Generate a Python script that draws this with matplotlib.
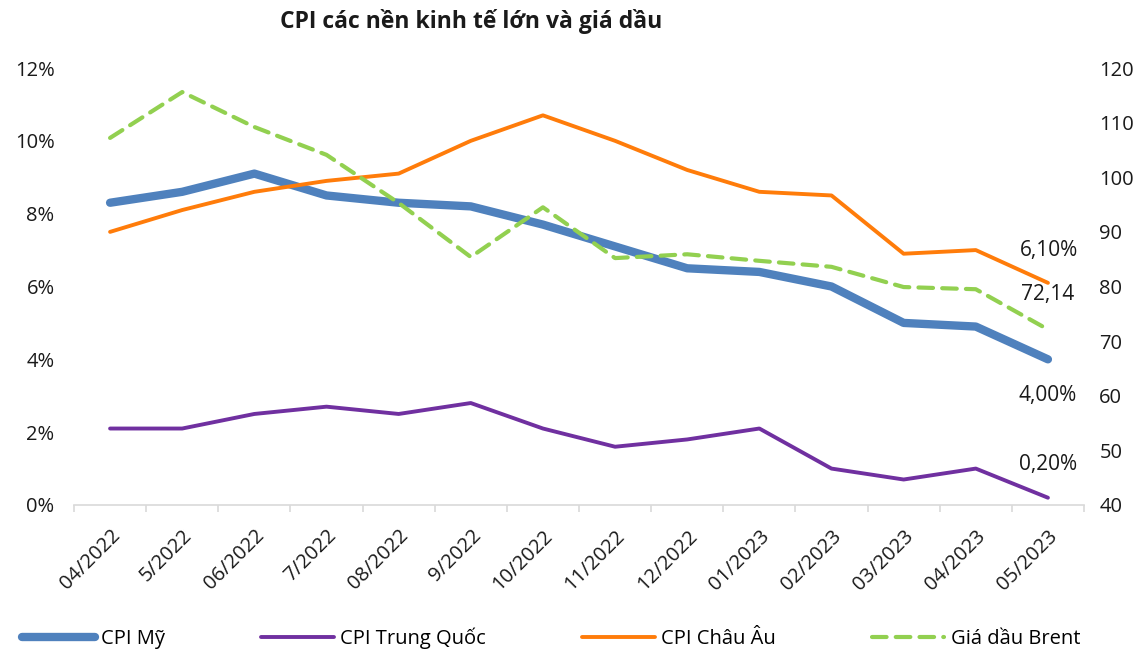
import matplotlib
matplotlib.use("Agg")
import matplotlib.pyplot as plt
from matplotlib.ticker import FixedLocator, FuncFormatter

plt.rcParams['font.family'] = ['Open Sans', 'DejaVu Sans']

months = ["04/2022", "5/2022", "06/2022", "7/2022", "08/2022", "9/2022", "10/2022",
          "11/2022", "12/2022", "01/2023", "02/2023", "03/2023", "04/2023", "05/2023"]
cpi_us = [8.3, 8.6, 9.1, 8.5, 8.3, 8.2, 7.7, 7.1, 6.5, 6.4, 6.0, 5.0, 4.9, 4.0]
cpi_cn = [2.1, 2.1, 2.5, 2.7, 2.5, 2.8, 2.1, 1.6, 1.8, 2.1, 1.0, 0.7, 1.0, 0.2]
cpi_eu = [7.5, 8.1, 8.6, 8.9, 9.1, 10.0, 10.7, 10.0, 9.2, 8.6, 8.5, 6.9, 7.0, 6.1]
brent = [107.2, 115.6, 109.2, 104.1, 95.3, 85.4, 94.5, 85.2, 85.9, 84.7, 83.6, 79.9, 79.5, 72.14]

C_US = "#4F81BD"
C_CN = "#7030A0"
C_EU = "#FF7C0A"
C_BR = "#92D050"
TXT = "#1a1a1a"

fig = plt.figure(figsize=(11.45, 6.51), dpi=100)
ax = fig.add_axes([74/1145, 1-505/651, (1084-74)/1145, (505-68)/651])
ax2 = ax.twinx()

x = list(range(len(months)))
l1, = ax.plot(x, cpi_us, color=C_US, lw=6, solid_capstyle='round', label="CPI Mỹ")
l2, = ax.plot(x, cpi_cn, color=C_CN, lw=2.8, solid_capstyle='round', label="CPI Trung Quốc")
l3, = ax.plot(x, cpi_eu, color=C_EU, lw=2.8, solid_capstyle='round', label="CPI Châu Âu")
l4, = ax2.plot(x, brent, color=C_BR, lw=3, linestyle=(0, (3.5, 2.2)), dash_capstyle='round',
               label="Giá dầu Brent")

ax.set_xlim(-0.5, len(months) - 0.5)
ax.set_ylim(0, 12)
ax2.set_ylim(40, 120)

ax.set_yticks([0, 2, 4, 6, 8, 10, 12])
ax.yaxis.set_major_formatter(FuncFormatter(lambda v, p: f"{int(v)}%"))
ax2.set_yticks([40, 50, 60, 70, 80, 90, 100, 110, 120])

for a in (ax, ax2):
    for s in a.spines.values():
        s.set_visible(False)
ax.spines['bottom'].set_visible(True)
ax.spines['bottom'].set_color("#D9D9D9")
ax.spines['bottom'].set_linewidth(1.2)

ax.tick_params(axis='y', length=0, labelsize=14.5, pad=14, labelcolor=TXT)
ax2.tick_params(axis='y', length=0, labelsize=14.5, pad=11, labelcolor=TXT)

ax.set_xticks(x)
ax.set_xticklabels(months, rotation=45, ha='right', va='top', rotation_mode='anchor',
                   fontsize=14.5, color=TXT)
ax.tick_params(axis='x', which='major', length=0, pad=15)
ax.xaxis.set_minor_locator(FixedLocator([i - 0.5 for i in range(len(months) + 1)]))
ax.tick_params(axis='x', which='minor', length=5, color="#D9D9D9", width=1.2)

# data labels for the last point
last = len(months) - 1
kw = dict(textcoords='offset points', ha='center', va='center', fontsize=15, color=TXT)
ax.annotate("6,10%", (last, cpi_eu[-1]), xytext=(1, 23), **kw)
ax2.annotate("72,14", (last, brent[-1]), xytext=(0, 25), **kw)
ax.annotate("4,00%", (last, cpi_us[-1]), xytext=(0, -26), **kw)
ax.annotate("0,20%", (last, cpi_cn[-1]), xytext=(0, 24), **kw)

fig.text(471/1145, 1-22/651, "CPI các nền kinh tế lớn và giá dầu", ha='center', va='center',
         fontsize=16.5, fontweight='bold', color=TXT)

fig.legend(handles=[l1, l2, l3, l4], loc='center left',
           bbox_to_anchor=(22/1145, 1-638/651, 1058/1145, 0.0), mode='expand', ncol=4,
           frameon=False, fontsize=14.5, handlelength=3.6, handletextpad=0.3, borderaxespad=0,
           borderpad=0)

fig.savefig("out.png", dpi=100)
